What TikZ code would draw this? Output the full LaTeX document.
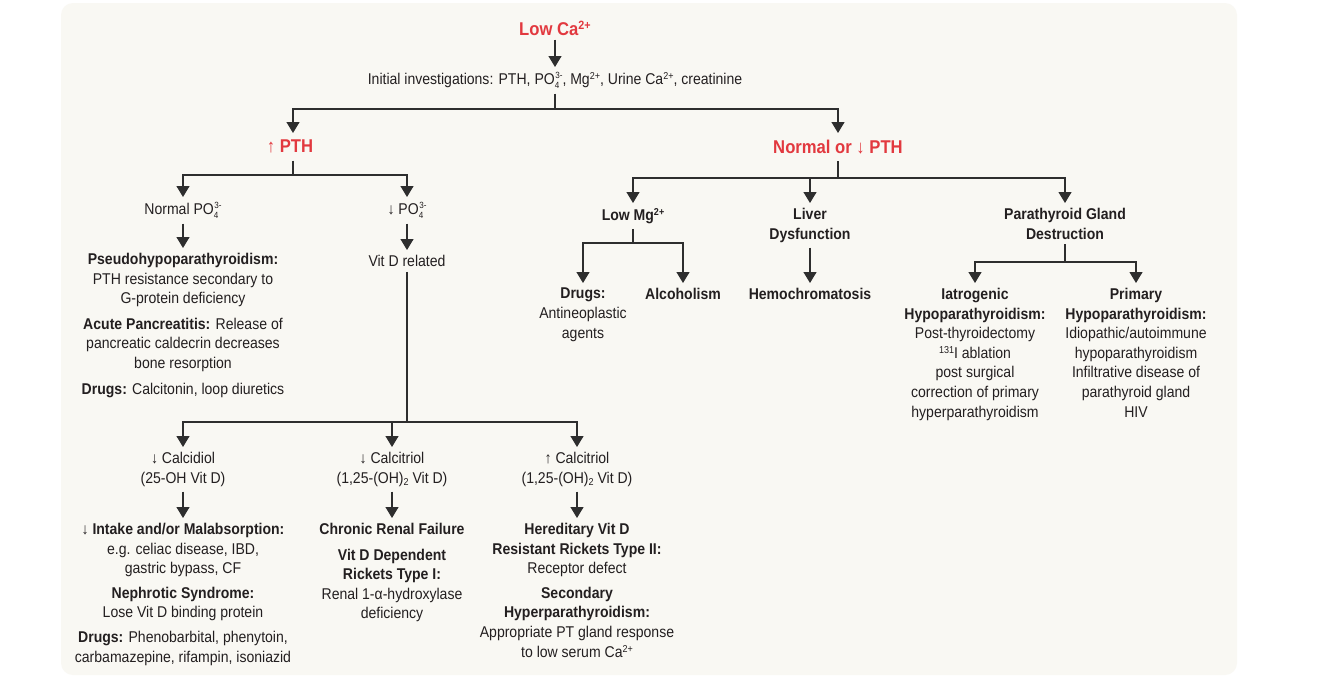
\documentclass[tikz,border=0pt]{standalone}
\usepackage{fontspec}
\setmainfont[FakeStretch=0.9]{Liberation Sans}
\usetikzlibrary{arrows.meta}
\definecolor{bgc}{HTML}{F9F8F3}
\definecolor{ink}{HTML}{231F20}
\definecolor{redc}{HTML}{E2393F}
\definecolor{lnc}{HTML}{2E2E2E}
\newcommand{\sups}[2][10]{\raisebox{0.62ex}{\fontsize{#1}{#1}\selectfont #2}}
\newcommand{\subs}[2][10]{\raisebox{-0.35ex}{\fontsize{#1}{#1}\selectfont #2}}
\newcommand{\subsup}[2]{\rlap{\raisebox{-0.45ex}{\fontsize{9}{9}\selectfont #1}}\kern0.5pt\raisebox{0.75ex}{\fontsize{9}{9}\selectfont #2}}
\begin{document}
\begin{tikzpicture}[x=1pt,y=-1pt,
  t/.style={font=\fontsize{15.6}{19.6}\selectfont, text=ink, align=center, inner xsep=0pt, inner ysep=5pt, anchor=north},
  hd/.style={t, font=\fontsize{18.5}{22}\selectfont\bfseries, text=redc, inner ysep=7pt},
  arr/.style={draw=lnc, line width=1.25pt, -{Triangle[width=13pt,length=11pt]}},
  lnk/.style={draw=lnc, line width=1.25pt}]
\useasboundingbox (0,0) rectangle (1334,678);
\fill[white] (0,0) rectangle (1334,678);
\fill[bgc, rounded corners=12pt] (61,3) rectangle (1237,675);

% top
\node[hd, anchor=center, inner ysep=4pt] (lowca) at (555,28) {Low Ca\sups[12]{2+}};
\node[t] (init) at (555,67) {Initial investigations: PTH, PO\subsup{4}{3-}, Mg\sups{2+}, Urine Ca\sups{2+}, creatinine};
\node[hd] (upPTH) at (290,133) {↑ PTH};
\node[hd] (nPTH) at (838,133) {Normal or ↓ PTH};

% left branch
\node[t] (nPO4) at (183,197) {Normal PO\subsup{4}{3-}};
\node[t] (dPO4) at (407,197) {↓ PO\subsup{4}{3-}};
\node[t] (pseudo) at (183,248) {\textbf{Pseudohypoparathyroidism:}\\ PTH resistance secondary to\\ G-protein deficiency\\[6pt] \textbf{Acute Pancreatitis:} Release of\\ pancreatic caldecrin decreases\\ bone resorption\\[6pt] \textbf{Drugs:} Calcitonin, loop diuretics};
\node[t] (vitd) at (407,250) {Vit D related};

\node[t] (calcidiol) at (183,447) {↓ Calcidiol\\ (25-OH Vit D)};
\node[t] (dcalcitriol) at (392,447) {↓ Calcitriol\\ (1,25-(OH)\subs{2} Vit D)};
\node[t] (ucalcitriol) at (577,447) {↑ Calcitriol\\ (1,25-(OH)\subs{2} Vit D)};

\node[t] (intake) at (183,518) {\textbf{↓ Intake and/or Malabsorption:}\\ e.g. celiac disease, IBD,\\ gastric bypass, CF\\[5pt] \textbf{Nephrotic Syndrome:}\\ Lose Vit D binding protein\\[5pt] \textbf{Drugs:} Phenobarbital, phenytoin,\\ carbamazepine, rifampin, isoniazid};
\node[t] (crf) at (392,518) {\textbf{Chronic Renal Failure}\\[6pt] \textbf{Vit D Dependent}\\ \textbf{Rickets Type I:}\\ Renal 1-α-hydroxylase\\ deficiency};
\node[t] (hered) at (577,518) {\textbf{Hereditary Vit D}\\ \textbf{Resistant Rickets Type II:}\\ Receptor defect\\[5pt] \textbf{Secondary}\\ \textbf{Hyperparathyroidism:}\\ Appropriate PT gland response\\ to low serum Ca\sups{2+}};

% right branch
\node[t] (lowmg) at (633,203) {\textbf{Low Mg\sups{2+}}};
\node[t] (liver) at (810,203) {\textbf{Liver}\\ \textbf{Dysfunction}};
\node[t] (ptg) at (1065,203) {\textbf{Parathyroid Gland}\\ \textbf{Destruction}};
\node[t] (drugsmg) at (583,283) {\textbf{Drugs:}\\ Antineoplastic\\ agents};
\node[t] (alc) at (683,283) {\textbf{Alcoholism}};
\node[t] (hemo) at (810,283) {\textbf{Hemochromatosis}};
\node[t] (iatro) at (975,283) {\textbf{Iatrogenic}\\ \textbf{Hypoparathyroidism:}\\ Post-thyroidectomy\\ \sups{131}I ablation\\ post surgical\\ correction of primary\\ hyperparathyroidism};
\node[t] (primary) at (1136,283) {\textbf{Primary}\\ \textbf{Hypoparathyroidism:}\\ Idiopathic/autoimmune\\ hypoparathyroidism\\ Infiltrative disease of\\ parathyroid gland\\ HIV};

% fork points
\coordinate (f1) at (555,109);
\coordinate (f2) at (293,175);
\coordinate (f3) at (838,178);
\coordinate (f4) at (633,243);
\coordinate (f5) at (407,422);
\coordinate (f6) at (1065,262);

% connectors
\draw[arr] (lowca) -- (init);
\draw[lnk] (init) -- (f1);
\draw[arr] (f1) -| (upPTH.north -| f2);
\draw[arr] (f1) -| (nPTH.north);

\draw[lnk] (upPTH.south -| f2) -- (f2);
\draw[arr] (f2) -| (nPO4.north);
\draw[arr] (f2) -| (dPO4.north);
\draw[arr] (nPO4) -- (pseudo);
\draw[arr] (dPO4) -- (vitd);
\draw[lnk] (vitd) -- (f5);
\draw[arr] (f5) -| (calcidiol.north);
\draw[arr] (f5) -| (dcalcitriol.north);
\draw[arr] (f5) -| (ucalcitriol.north);
\draw[arr] (calcidiol) -- (intake);
\draw[arr] (dcalcitriol) -- (crf);
\draw[arr] (ucalcitriol) -- (hered);

\draw[lnk] (nPTH) -- (f3);
\draw[arr] (f3) -| (lowmg.north);
\draw[arr] (f3) -| (liver.north);
\draw[arr] (f3) -| (ptg.north);
\draw[lnk] (lowmg) -- (f4);
\draw[arr] (f4) -| (drugsmg.north);
\draw[arr] (f4) -| (alc.north);
\draw[arr] (liver) -- (hemo);
\draw[lnk] (ptg) -- (f6);
\draw[arr] (f6) -| (iatro.north);
\draw[arr] (f6) -| (primary.north);
\end{tikzpicture}
\end{document}
